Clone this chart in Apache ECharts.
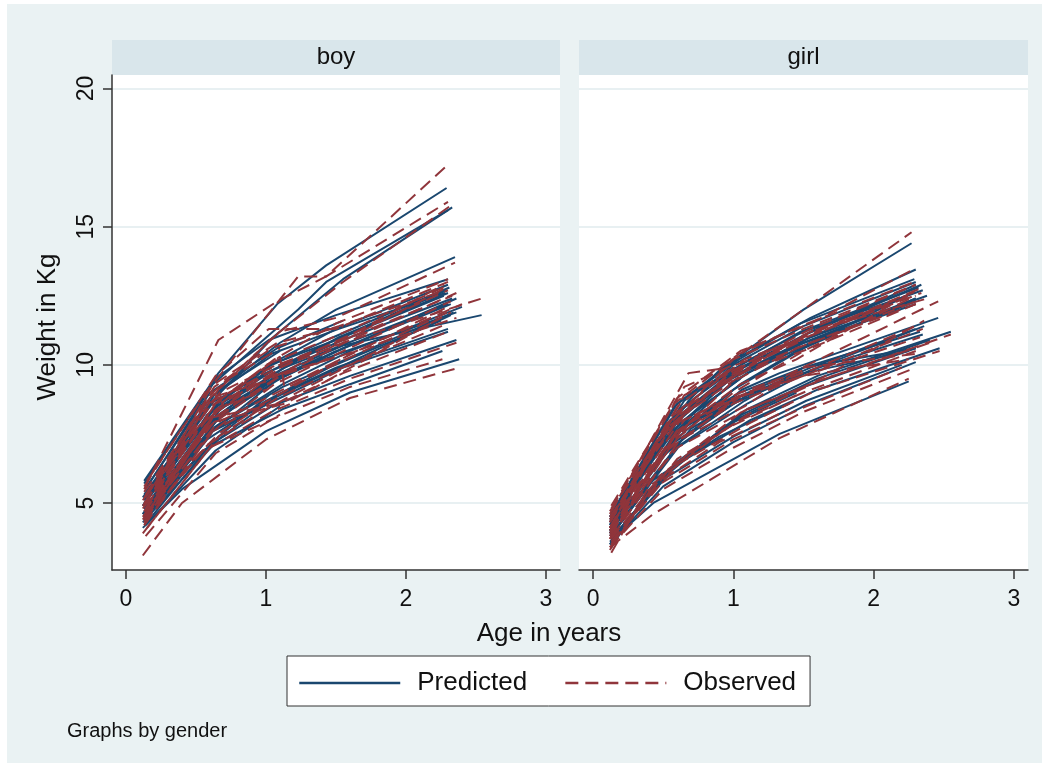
<!DOCTYPE html>
<html><head><meta charset="utf-8">
<script src="https://cdn.jsdelivr.net/npm/echarts@6/dist/echarts.min.js"></script>
<style>html,body{margin:0;padding:0;background:#fff}#c{width:1050px;height:767px}</style>
</head><body><div id="c"></div>
<script>
// ---- data: ages (years) and weights (kg) per child ----
const panels = ['boy', 'girl'];
const xTicks = [0, 1, 2, 3];
const yTicks = [5, 10, 15, 20];

const boyAges = [
 [0.13,0.66,1.08,1.43,2.29],[0.14,0.62,1.23,1.43,2.30],[0.13,0.60,1.05,1.55,2.33],[0.14,0.60,1.10,1.50,2.35],
 [0.15,0.65,1.10,1.55,2.54],[0.13,0.64,1.02,1.50,2.30],[0.12,0.66,1.00,1.48,2.31],[0.14,0.63,1.04,1.52,2.28],
 [0.13,0.60,1.10,1.60,2.36],[0.15,0.58,1.10,1.13,2.30],[0.13,0.62,1.06,1.55,2.32],[0.12,0.67,1.03,1.50,2.27],
 [0.14,0.65,1.12,1.57,2.34],[0.13,0.60,1.00,1.45,2.29],[0.12,0.66,1.08,1.50,2.30],[0.14,0.64,1.05,1.52,2.36],
 [0.13,0.62,1.10,1.55,2.30],[0.15,0.60,1.04,1.60,2.36],[0.12,0.40,1.00,1.60,2.38],[0.13,0.55,1.12,1.60,2.26],
 [0.13,0.62,1.05],[0.14,0.60,1.10,1.50],[0.12,0.65,1.00],[0.15,0.60,1.08,1.55],
 [0.13,0.45,0.66,1.02],[0.14,0.64,1.10],[0.12,0.60,1.00,1.55,2.33],[0.13,0.66,1.06,1.50,2.30],
 [0.14,0.62,1.12,1.60,2.40],[0.13,0.58,1.00,1.45,2.25],[0.15,0.70,1.10],[0.12,0.55,0.95,1.40],
 [0.14,0.60,1.14,2.32],[0.13,0.64,1.10,1.52,2.30]
];
const boyObs = [
 [5.5,10.9,12.3,13.2,17.2],[5.0,9.3,13.2,13.2,15.9],[4.9,8.8,11.0,13.0,15.8],[5.2,8.9,11.2,11.7,13.7],
 [4.6,8.3,9.9,10.8,12.4],[5.6,9.6,11.3,11.3,13.0],[4.4,8.5,10.0,11.0,12.9],[5.3,9.2,10.6,11.4,12.7],
 [4.7,8.0,9.6,10.9,12.6],[4.9,8.4,10.3,9.2,12.1],[4.2,7.6,9.3,10.5,12.3],[5.1,9.0,9.9,10.8,12.9],
 [4.5,7.9,9.1,10.2,12.0],[5.4,8.8,9.4,10.6,12.8],[3.9,7.4,8.8,9.8,11.5],[4.8,8.6,9.6,10.3,11.7],
 [4.3,8.1,8.6,9.7,11.2],[4.1,7.0,8.3,9.5,10.8],[3.1,5.0,7.3,8.8,9.9],[4.4,6.9,8.2,9.2,10.2],
 [5.0,8.7,9.8],[4.6,7.8,9.6,10.3],[4.5,8.4,9.1],[5.8,9.2,10.8,11.4],
 [4.2,6.4,7.5,8.7],[3.8,6.8,8.2],[4.8,8.2,9.8,10.9,12.5],[5.2,8.7,10.2,11.5,13.1],
 [4.6,7.6,9.0,10.4,12.2],[4.3,7.1,8.4,9.6,11.7],[5.3,9.4,10.6],[4.9,7.9,9.5,10.1],
 [4.4,7.9,8.6,11.9],[4.7,8.0,9.9,10.9,12.7]
];
const boyPred = [
 [5.8,9.7,12.2,13.6,16.4],[5.5,9.3,12.0,13.0,15.6],[5.1,8.6,11.0,13.1,15.7],[5.3,8.8,10.8,12.0,13.9],
 [4.7,8.0,9.7,10.7,11.8],[5.7,9.5,10.9,11.8,13.1],[4.6,8.3,9.9,11.0,12.8],[5.2,8.9,10.4,11.3,12.6],
 [4.8,7.9,9.6,10.7,12.4],[4.9,8.2,9.8,9.9,12.2],[4.4,7.6,9.4,10.6,12.2],[5.2,8.7,10.0,10.9,12.5],
 [4.6,7.8,9.2,10.2,11.9],[5.3,8.6,9.7,10.8,12.7],[4.3,7.3,8.9,9.9,11.3],[4.8,8.3,9.5,10.4,11.9],
 [4.5,7.6,8.8,9.9,11.2],[4.3,7.1,8.5,9.6,10.9],[4.1,5.5,7.6,9.0,10.2],[4.5,6.9,8.4,9.3,10.5],
 [5.0,8.4,9.8],[4.7,7.9,9.5,10.5],[4.6,8.0,9.3],[5.6,9.0,10.6,11.6],
 [4.4,6.3,7.4,8.9],[4.2,6.9,8.5],[4.9,8.1,9.7,10.9,12.4],[5.1,8.6,10.1,11.3,12.9],
 [4.7,7.7,9.3,10.5,12.1],[4.5,7.3,8.7,9.9,11.6],[5.3,9.2,10.5],[4.9,7.8,9.2,10.3],
 [4.6,7.6,9.0,11.8],[4.8,8.1,9.8,11.0,12.6]
];

const girlAges = [
 [0.12,0.68,0.90,1.50,2.27],[0.13,0.60,1.05,1.55,2.30],[0.12,0.55,1.00,1.50,2.30],[0.13,0.62,1.02,1.48,2.32],
 [0.14,0.50,0.98,1.55,2.28],[0.12,0.65,1.05,1.52,2.34],[0.13,0.58,1.00,1.45,2.30],[0.12,0.60,1.08,1.50,2.35],
 [0.13,0.70,1.10,1.55,2.30],[0.12,0.52,1.00,1.50,2.30],[0.14,0.62,1.04,1.55,2.38],[0.12,0.45,0.95,1.50],
 [0.13,0.65,1.00],[0.12,0.60,1.05,1.45,2.27],[0.12,0.50,1.06,1.33,2.46],[0.13,0.55,1.10,1.60,2.55],
 [0.12,0.43,1.33,2.25],[0.13,0.60,1.05,1.50,2.30],[0.12,0.50,1.00,1.55,2.35],[0.14,0.62,1.08,1.50,2.30],
 [0.12,0.48,1.06,1.60,2.40],[0.13,0.58,1.10,1.55,2.30],[0.12,0.65,1.02,1.50,2.33],[0.13,0.40,0.95,1.45],
 [0.12,0.55,1.05],[0.14,0.60,1.12,1.60,2.47],[0.12,0.70,1.10,1.50,2.25],[0.13,0.45,1.00,1.52,2.20],
 [0.12,0.62,1.05],[0.13,0.55,1.00,1.45,2.30],[0.12,0.60,1.10,1.55,2.36],[0.14,0.65,1.05,1.50],
 [0.12,0.50,1.00,1.55,2.30],[0.13,0.58,1.04,1.48,2.29],[0.12,0.50,1.00,1.50,2.30],[0.13,0.42,0.90,1.40]
];
const girlObs = [
 [4.6,9.7,9.85,12.0,14.8],[4.9,8.8,10.5,11.5,13.5],[4.3,7.9,10.2,11.3,12.9],[4.5,8.6,10.0,10.9,12.7],
 [4.0,7.6,9.6,11.2,12.5],[4.4,8.9,9.9,11.0,12.6],[3.9,7.4,9.4,10.6,12.3],[4.7,8.3,10.2,11.0,12.8],
 [4.2,8.6,9.8,10.6,12.2],[3.7,7.0,9.0,10.5,12.5],[4.6,8.2,9.7,11.2,12.4],[4.1,7.2,9.6,10.9],
 [4.8,9.2,10.0],[3.8,7.6,9.3,10.2,12.6],[4.0,6.8,8.9,9.5,12.3],[3.6,6.3,8.2,9.4,11.1],
 [3.4,4.6,7.35,9.5],[3.5,6.6,8.0,9.0,10.5],[3.9,6.9,8.6,9.7,11.3],[3.8,7.3,8.5,9.9,10.4],
 [3.3,6.0,8.3,9.4,10.8],[4.2,7.4,9.0,9.8,11.4],[3.7,7.8,8.8,9.6,11.0],[3.2,5.6,7.7,8.9],
 [4.3,7.8,8.9],[3.6,6.4,7.9,9.1,10.5],[4.1,8.0,9.0,9.6,10.2],[3.5,5.6,7.3,8.5,9.9],
 [4.5,8.1,9.6],[4.4,8.1,9.6,10.6,12.2],[4.0,7.0,8.4,9.3,11.6],[4.3,8.0,9.0,9.8],
 [4.1,7.5,9.8,11.3,12.9],[4.7,8.6,10.4,11.4,13.0],[3.4,5.5,7.0,8.3,9.9],[3.7,5.6,7.2,8.4]
];
const girlPred = [
 [4.5,8.7,9.8,12.0,14.4],[4.6,8.6,10.3,11.7,13.45],[4.3,8.0,10.0,11.4,13.0],[4.4,8.4,9.9,11.2,12.8],
 [4.2,7.3,9.5,11.0,12.6],[4.3,8.3,9.9,11.1,12.9],[4.0,7.5,9.4,10.7,12.4],[4.5,8.1,10.1,11.2,12.7],
 [4.1,8.2,9.7,10.8,12.3],[3.9,7.0,9.1,10.6,12.4],[4.4,8.1,9.7,11.0,12.5],[4.2,6.9,9.4,10.8],
 [4.6,8.7,9.9],[3.9,7.5,9.3,10.5,12.6],[4.0,6.7,9.1,9.7,11.7],[3.7,6.2,8.4,9.6,11.2],
 [3.6,5.0,7.5,9.4],[3.7,6.5,8.1,9.2,10.6],[3.9,6.8,8.6,9.8,11.1],[3.9,7.1,8.7,9.9,10.6],
 [3.5,5.9,8.2,9.5,10.9],[4.1,7.2,8.9,9.9,11.3],[3.8,7.4,8.8,9.9,11.2],[3.4,5.5,7.8,9.0],
 [4.2,7.5,8.8],[3.7,6.4,8.0,9.1,10.6],[4.0,7.7,8.9,9.7,10.5],[3.6,5.7,7.4,8.7,10.0],
 [4.4,7.9,9.5],[4.3,7.9,9.6,10.7,12.2],[4.0,7.0,8.6,9.8,11.4],[4.2,7.8,9.0,9.9],
 [4.1,7.5,9.7,11.2,12.9],[4.6,8.5,10.2,11.5,13.1],[3.5,5.6,7.2,8.5,10.1],[3.8,5.8,7.4,8.6]
];

// ---- chart ----
const FONT = 'Liberation Sans, Arial, Helvetica, sans-serif';
const BLUE = '#1a476f', RED = '#90353b';
const gridPos = [{left:112, width:448}, {left:579, width:449}];
const TOP = 75, HEIGHT = 495;
const YMIN = 2.575, YMAX = 20.49, XMIN = -0.1, XMAX = 3.1;

const grids = gridPos.map(g => ({left:g.left, top:TOP, width:g.width, height:HEIGHT,
  show:true, backgroundColor:'#ffffff', borderWidth:0, containLabel:false}));

const xAxes = gridPos.map((g, i) => ({
  type:'value', gridIndex:i, min:XMIN, max:XMAX,
  axisLine:{show:true, onZero:false, lineStyle:{color:'#333', width:1.5}},
  axisTick:{show:true, length:9, inside:false, customValues:xTicks, lineStyle:{color:'#333', width:1.5}},
  axisLabel:{show:true, customValues:xTicks, fontSize:23, color:'#111', fontFamily:FONT, margin:18},
  splitLine:{show:false}
}));
const yAxes = gridPos.map((g, i) => ({
  type:'value', gridIndex:i, min:YMIN, max:YMAX,
  axisLine:{show:i===0, onZero:false, lineStyle:{color:'#333', width:1.5}},
  axisTick:{show:i===0, length:9, inside:false, customValues:yTicks, lineStyle:{color:'#333', width:1.5}},
  axisLabel:{show:i===0, customValues:yTicks, rotate:90, fontSize:23, color:'#111', fontFamily:FONT, margin:14},
  splitLine:{show:true, lineStyle:{color:'#e8f0f2', width:2}}
}));

const series = [];
function addLines(agesArr, valsArr, name, gi, color, type) {
  agesArr.forEach((ages, i) => {
    series.push({
      type:'line', name:name, xAxisIndex:gi, yAxisIndex:gi,
      data: ages.map((a, j) => [a, valsArr[i][j]]),
      symbol:'none', showSymbol:false, silent:true, animation:false,
      color:color, lineStyle:{color:color, width:2, type:type},
      emphasis:{disabled:true}, z:2
    });
  });
}
const DASH = [13, 7];
addLines(boyAges, boyPred, 'Predicted', 0, BLUE, 'solid');
addLines(girlAges, girlPred, 'Predicted', 1, BLUE, 'solid');
addLines(boyAges, boyObs, 'Observed', 0, RED, DASH);
addLines(girlAges, girlObs, 'Observed', 1, RED, DASH);

const graphic = [
  {type:'rect', z:-10, silent:true, shape:{x:7, y:4, width:1035, height:759}, style:{fill:'#eaf2f3'}},
];
panels.forEach((p, i) => {
  const g = gridPos[i];
  graphic.push({type:'rect', z:-5, silent:true, shape:{x:g.left, y:40, width:g.width, height:35}, style:{fill:'#d9e6eb'}});
  graphic.push({type:'text', z:5, silent:true, x:g.left + g.width/2, y:57,
    style:{text:p, fontSize:24, fontFamily:FONT, fill:'#111', textAlign:'center', textVerticalAlign:'middle'}});
});
graphic.push({type:'text', silent:true, x:549, y:634,
  style:{text:'Age in years', fontSize:26, fontFamily:FONT, fill:'#111', textAlign:'center', textVerticalAlign:'middle'}});
graphic.push({type:'text', silent:true, x:48, y:327, rotation:Math.PI/2,
  style:{text:'Weight in Kg', fontSize:26, fontFamily:FONT, fill:'#111', textAlign:'center', textVerticalAlign:'middle'}});
graphic.push({type:'text', silent:true, x:67, y:731,
  style:{text:'Graphs by gender', fontSize:20, fontFamily:FONT, fill:'#111', textAlign:'left', textVerticalAlign:'middle'}});

const chart = echarts.init(document.getElementById('c'), null, {renderer:'canvas'});
chart.setOption({
  animation:false,
  backgroundColor:'#ffffff',
  grid:grids, xAxis:xAxes, yAxis:yAxes, series:series, graphic:graphic,
  legend:{
    data:['Predicted','Observed'], left:287, top:656, orient:'horizontal',
    backgroundColor:'#ffffff', borderColor:'#333', borderWidth:1,
    padding:[14,14,10,11], itemWidth:101, itemHeight:16, itemGap:37, selectedMode:false,
    itemStyle:{opacity:0, color:'rgba(0,0,0,0)', borderWidth:0},
    lineStyle:{width:2.5},
    textStyle:{fontSize:26, color:'#111', fontFamily:FONT, padding:[0,0,0,12]}
  }
});
</script></body></html>
